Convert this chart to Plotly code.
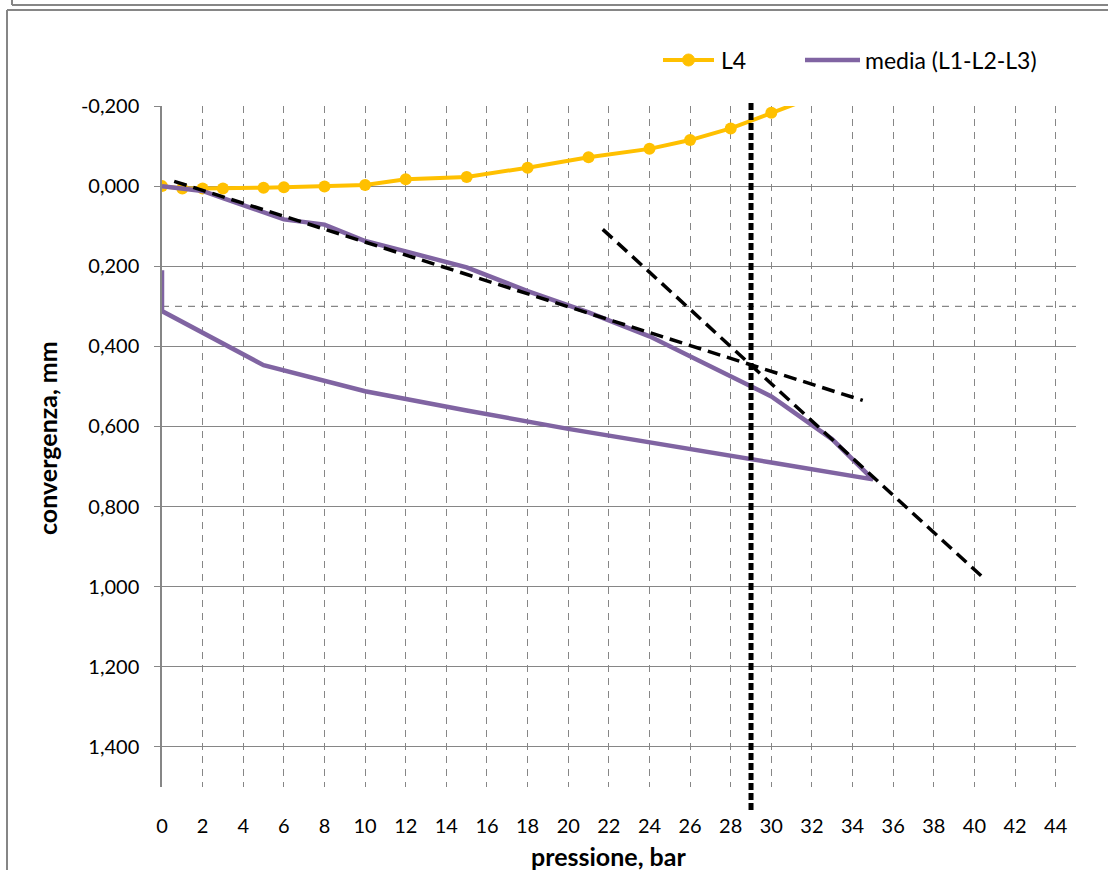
import plotly.graph_objects as go

# L4: pressione (bar) e convergenza (mm)
pressione_L4 = [0, 1, 2, 3, 5, 6, 8, 10, 12, 15, 18, 21, 24, 26, 28, 30, 33]
convergenza_L4 = [0.0, 0.006, 0.006, 0.006, 0.004, 0.003, 0.001, -0.003, -0.017, -0.023,
                  -0.046, -0.072, -0.093, -0.115, -0.144, -0.183, -0.24]

# media (L1-L2-L3): carico fino a 35 bar, poi scarico
pressione_media = [0, 1, 2, 3, 5, 6, 8, 10, 12, 15, 18, 21, 24, 26, 28, 30, 33, 35,
                   30, 25, 20, 15, 10, 5, 0, 0]
convergenza_media = [0.0, 0.006, 0.012, 0.03, 0.065, 0.083, 0.096, 0.137, 0.163, 0.203,
                     0.262, 0.315, 0.375, 0.425, 0.478, 0.525, 0.632, 0.732,
                     0.69, 0.648, 0.606, 0.56, 0.512, 0.447, 0.312, 0.21]

# rette tangenti tratteggiate
tangente1_x = [0.6, 34.5]
tangente1_y = [-0.012, 0.535]
tangente2_x = [21.7, 40.4]
tangente2_y = [0.108, 0.976]

pressione_limite = 29      # linea verticale puntinata
convergenza_soglia = 0.3   # linea orizzontale tratteggiata

x_ticks = list(range(0, 45, 2))
y_ticks = [-0.2, 0.0, 0.2, 0.4, 0.6, 0.8, 1.0, 1.2, 1.4]
y_ticktext = ["-0,200", "0,000", "0,200", "0,400", "0,600", "0,800", "1,000", "1,200", "1,400"]

GIALLO = "#FFC000"
VIOLA = "#8064A2"
GRIGIO = "#868686"
FONT = "Lato, 'Open Sans', sans-serif"

W, H = 1108, 870
L, R, T, B = 162, 1076, 106, 787


def px_x(p):
    return (p - L) / (R - L)


def px_y(p):
    return (B - p) / (B - T)


fig = go.Figure()
fig.add_trace(go.Scatter(x=pressione_L4, y=convergenza_L4, name="L4", mode="lines+markers",
                         line=dict(color=GIALLO, width=4),
                         marker=dict(color=GIALLO, size=12)))
fig.add_trace(go.Scatter(x=pressione_media, y=convergenza_media, name="media (L1-L2-L3)",
                         mode="lines", line=dict(color=VIOLA, width=4.5)))
for tx, ty in [(tangente1_x, tangente1_y), (tangente2_x, tangente2_y)]:
    fig.add_trace(go.Scatter(x=tx, y=ty, mode="lines", hoverinfo="skip",
                             line=dict(color="black", width=3.5, dash="13px,7px")))


def paper_line(x0, y0, x1, y1, color, width, **kw):
    return dict(type="line", xref="paper", yref="paper", x0=px_x(x0), x1=px_x(x1),
                y0=px_y(y0), y1=px_y(y1), line=dict(color=color, width=width), **kw)


def paper_text(text, x, y, size, xanchor="center", **kw):
    return dict(text=text, xref="paper", yref="paper", x=px_x(x), y=px_y(y),
                xanchor=xanchor, yanchor="middle", showarrow=False, font=dict(size=size), **kw)


shapes = [
    dict(type="line", xref="paper", yref="y", x0=0, x1=1, y0=convergenza_soglia,
         y1=convergenza_soglia, line=dict(color=GRIGIO, width=1.3, dash="7px,6px"),
         layer="below"),
    dict(type="line", xref="x", yref="paper", x0=pressione_limite, x1=pressione_limite,
         y0=px_y(810), y1=px_y(103), line=dict(color="black", width=5, dash="7px,3px")),
    # cornici del grafico
    paper_line(7, 900, 7, 10, GRIGIO, 2),
    paper_line(7, 10, 1120, 10, GRIGIO, 2),
    paper_line(12, 5, 1120, 5, GRIGIO, 2),
    paper_line(12, 5, 12, -20, GRIGIO, 2),
    # legenda
    paper_line(663, 60, 714, 60, GIALLO, 4),
    dict(type="circle", xref="paper", yref="paper", x0=px_x(682.5), x1=px_x(694.5),
         y0=px_y(54), y1=px_y(66), fillcolor=GIALLO, line=dict(color=GIALLO, width=1)),
    paper_line(805, 60, 860, 60, VIOLA, 4.5),
]

annotations = [
    paper_text("L4", 719, 60, 23, xanchor="left"),
    paper_text("media (L1-L2-L3)", 863, 60, 23, xanchor="left"),
    paper_text("<b>pressione, bar</b>", 608, 856, 25),
    paper_text("<b>convergenza, mm</b>", 47, 438, 25, textangle=-90),
]

fig.update_layout(
    width=W, height=H,
    margin=dict(l=L, r=W - R, t=T, b=H - B, pad=0),
    paper_bgcolor="white", plot_bgcolor="white",
    font=dict(family=FONT, size=20, color="black"),
    showlegend=False,
    xaxis=dict(range=[0, 45], tickvals=x_ticks, showgrid=True, gridcolor=GRIGIO, gridwidth=1.3,
               griddash="7px,6px", zeroline=False, showline=False, ticks="",
               ticklabelstandoff=25),
    yaxis=dict(range=[1.5, -0.2], tickvals=y_ticks, ticktext=y_ticktext, showgrid=True,
               gridcolor=GRIGIO, gridwidth=1.3, zeroline=False, showline=True,
               linecolor=GRIGIO, linewidth=1.5, ticks="outside", ticklen=6,
               tickcolor=GRIGIO, ticklabelstandoff=11),
    shapes=shapes,
    annotations=annotations,
)

fig.write_html("out.html", config={"displayModeBar": False},
               post_script="document.body.style.margin='0';")
